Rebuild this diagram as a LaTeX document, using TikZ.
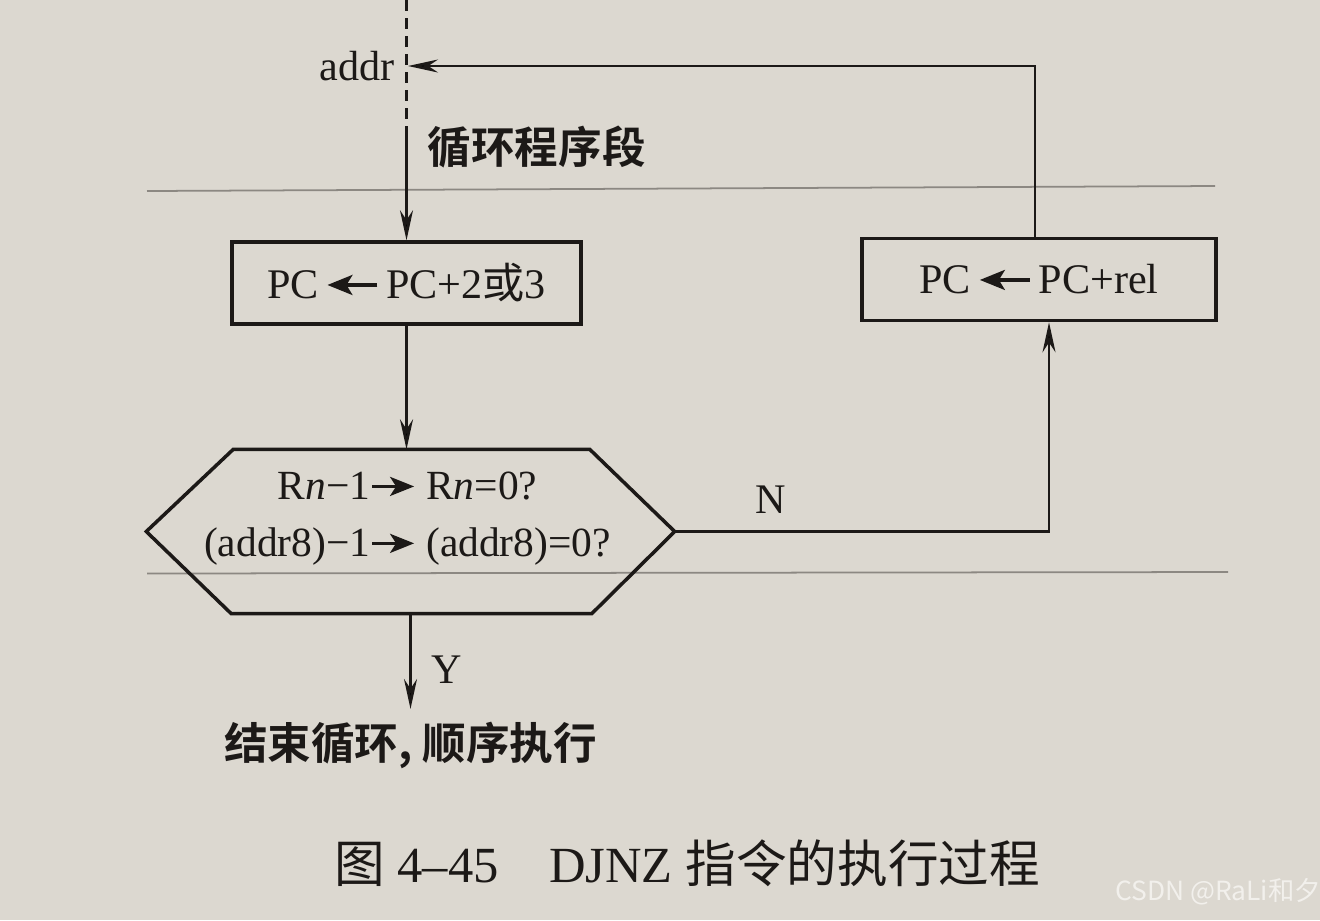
\documentclass[tikz,border=0pt]{standalone}
\usepackage{fontspec}
\usepackage{xcolor}
\usepackage{tikz}
\usetikzlibrary{arrows.meta}
\setmainfont{Liberation Serif}
\newfontfamily\cjk[BoldFont={Noto Sans CJK SC Bold}]{Noto Sans CJK SC}
\definecolor{paper}{HTML}{DCD8D0}
\definecolor{ink}{HTML}{1C1917}
\definecolor{showthru}{HTML}{8C8882}
\definecolor{wmark}{HTML}{F2F0EC}
\newcommand{\arrowL}{\tikz[baseline={(0,-0.14)}]\draw[ink, line width=1pt, -{Stealth[length=2.5mm,width=2mm,inset=0.6mm]}] (0.5,0) -- (0,0);}
\newcommand{\arrowR}{\tikz[baseline={(0,-0.135)}]\draw[ink, line width=1pt, -{Stealth[length=2.4mm,width=1.9mm,inset=0.6mm]}] (0,0) -- (0.42,0);}

\begin{document}
\begin{tikzpicture}[
    flow/.style={
        draw=ink,
        line width=0.75pt,
        -{Stealth[length=3mm,width=1.3mm]}
    },
    rule/.style={
        draw=showthru,
        line width=0.5pt
    },
    box/.style={
        draw=ink,
        text=ink,
        line width=1pt,
        minimum height=0.82cm,
        inner sep=0pt,
        font=\fontsize{12}{14}\selectfont
    },
    decision/.style={
        minimum width=5.27cm,
        minimum height=1.63cm,
        inner sep=0pt
    },
    tag/.style={
        text=ink,
        inner sep=0pt,
        font=\fontsize{12}{14}\selectfont
    },
    hanzi/.style={
        text=ink,
        inner sep=0pt,
        font=\cjk\bfseries\fontsize{12.4}{15}\selectfont
    }
]

% ============================================================
% Page and the lines showing through it
% ============================================================

\fill[paper] (0,0) rectangle (13.2,-9.2);
\useasboundingbox (0,0) rectangle (13.2,-9.2);

\draw[rule] (1.47,-1.91) -- (12.15,-1.86);
\draw[rule] (1.47,-5.735) -- (12.28,-5.72);

% ============================================================
% Entry of the loop
% ============================================================

\coordinate (entry) at (4.065,0);
\coordinate (solid) at (4.065,-1.27);
\coordinate (back) at (4.08,-0.66);

\node[tag, anchor=east] (addr) at (3.955,-0.66) {addr};

\node[hanzi, anchor=west] (loop) at (4.27,-1.47) {循环程序段};

% ============================================================
% PC <- PC+2 or 3
% ============================================================

\node[box, minimum width=3.49cm] (pcinc) at (4.065,-2.83)
    {PC\,\arrowL\,PC+2{\cjk 或}3};

% ============================================================
% Decrement and test
% ============================================================

\node[decision] (test) at (4.105,-5.315) {};

\draw[ink, line width=1pt]
    (test.west) -- ([xshift=8.7mm]test.north west)
    -- ([xshift=-8.5mm]test.north east) -- (test.east)
    -- ([xshift=-8.3mm]test.south east)
    -- ([xshift=8.5mm]test.south west) -- cycle;

\node[text=ink, align=center, inner sep=0pt,
    font=\fontsize{11.8}{16.2}\selectfont] (testtxt) at (4.075,-5.19)
    {R\textit{n}−1\arrowR\ R\textit{n}=0?\\
     (addr8)−1\arrowR\ (addr8)=0?};

% ============================================================
% PC <- PC+rel
% ============================================================

\node[box, minimum width=3.54cm] (pcrel) at (10.39,-2.795)
    {PC\,\arrowL\,PC+rel};

\node[tag] (nlab) at (7.71,-5.00) {N};

% ============================================================
% Leaving the loop
% ============================================================

\node[tag] (ylab) at (4.47,-6.70) {Y};

\node[hanzi, inner sep=1.2mm] (done) at (4.105,-7.45)
    {结束循环, 顺序执行};

% ============================================================
% Connectors
% ============================================================

\draw[ink, line width=0.75pt, dash pattern=on 1.1mm off 0.7mm]
    (entry) -- (solid);
\draw[flow] (solid) -- (pcinc.north);
\draw[flow] (pcinc.south) -- (pcinc.south |- test.north);
\draw[flow] (test.south) -- (test.south |- done.north);
\draw[flow] (test.east) -| ([xshift=1mm]pcrel.south);
\draw[flow] ([xshift=-0.4mm]pcrel.north) |- (back);

% ============================================================
% Caption
% ============================================================

\node[text=ink, inner sep=0pt, font=\fontsize{14.4}{16}\selectfont] (caption)
    at (6.87,-8.63) {{\cjk 图} 4–45\quad DJNZ {\cjk 指令的执行过程}};

\node[text=wmark, inner sep=0pt, font=\cjk\fontsize{7.5}{9}\selectfont]
    (credit) at (12.18,-8.92) {CSDN @RaLi和夕};

\end{tikzpicture}
\end{document}
